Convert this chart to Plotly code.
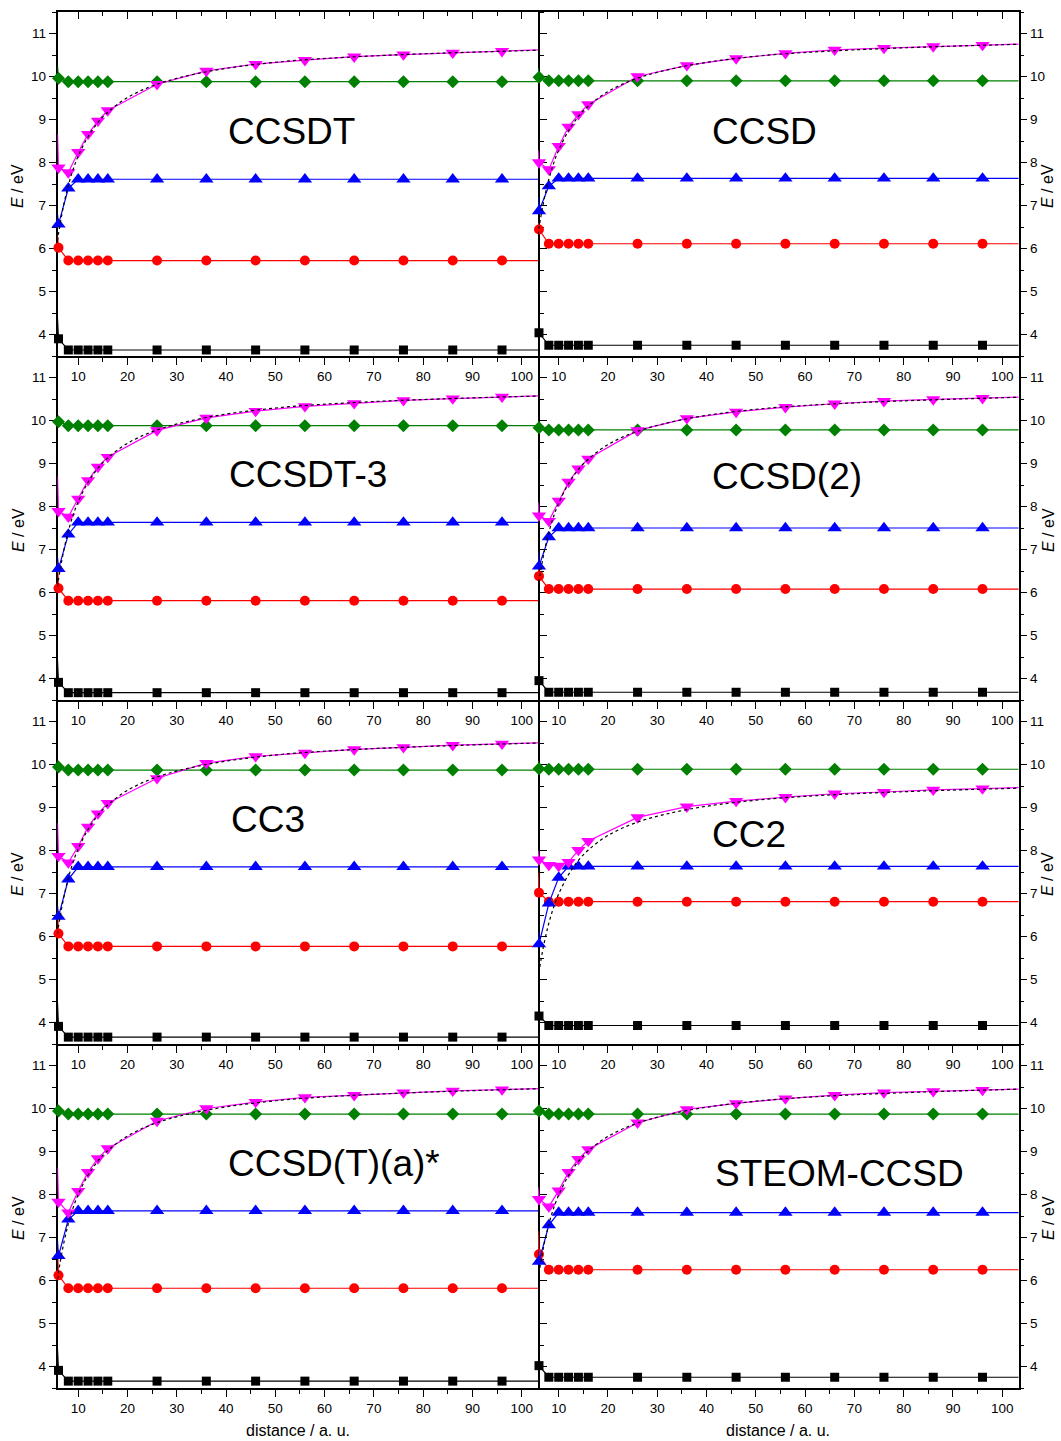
import plotly.graph_objects as go

W, H = 1061, 1441

# distances (a.u.): first = clipped point at left edge, last = clipped continuation beyond right edge
X_DIST = [5.8, 6, 8, 10, 12, 14, 16, 26, 36, 46, 56, 66, 76, 86, 96, 106]
# abscissae of the dotted asymptotic (-1/R) curves
X_FIT = [5.8, 6, 7, 8, 9, 10, 12, 14, 16, 20, 26, 36, 50, 70, 103.3]

METHODS = ["CCSDT", "CCSD", "CCSDT-3", "CCSD(2)", "CC3", "CC2", "CCSD(T)(a)*", "STEOM-CCSD"]

# ---- CCSDT
CCSDT_BLACK = [4.37, 3.90, 3.64, 3.64, 3.64, 3.64, 3.64, 3.64, 3.64, 3.64, 3.64, 3.64, 3.64, 3.64, 3.64, 3.64]
CCSDT_RED = [6.30, 6.02, 5.72, 5.72, 5.72, 5.72, 5.72, 5.72, 5.72, 5.72, 5.72, 5.72, 5.72, 5.72, 5.72, 5.72]
CCSDT_BLUE = [6.80, 6.56, 7.40, 7.61, 7.61, 7.61, 7.61, 7.61, 7.61, 7.61, 7.61, 7.61, 7.61, 7.61, 7.61, 7.61]
CCSDT_MAGENTA = [8.66, 7.88, 7.77, 8.24, 8.66, 8.97, 9.21, 9.82, 10.13, 10.29, 10.38, 10.46, 10.51, 10.55, 10.59, 10.63]
CCSDT_GREEN = [10.25, 9.96, 9.88, 9.88, 9.88, 9.88, 9.88, 9.88, 9.88, 9.88, 9.88, 9.88, 9.88, 9.88, 9.88, 9.88]
CCSDT_FIT = [6.18, 6.34, 6.98, 7.47, 7.85, 8.15, 8.60, 8.93, 9.17, 9.51, 9.82, 10.11, 10.33, 10.48, 10.61]

# ---- CCSD
CCSD_BLACK = [4.15, 4.04, 3.75, 3.75, 3.75, 3.75, 3.75, 3.75, 3.75, 3.75, 3.75, 3.75, 3.75, 3.75, 3.75, 3.75]
CCSD_RED = [6.60, 6.44, 6.11, 6.11, 6.11, 6.11, 6.11, 6.11, 6.11, 6.11, 6.11, 6.11, 6.11, 6.11, 6.11, 6.11]
CCSD_BLUE = [7.19, 6.87, 7.45, 7.63, 7.63, 7.63, 7.63, 7.63, 7.63, 7.63, 7.63, 7.63, 7.63, 7.63, 7.63, 7.63]
CCSD_MAGENTA = [8.29, 8.00, 7.84, 8.38, 8.83, 9.12, 9.35, 10.00, 10.26, 10.42, 10.54, 10.62, 10.66, 10.70, 10.73, 10.76]
CCSD_GREEN = [10.20, 9.98, 9.90, 9.90, 9.90, 9.90, 9.90, 9.90, 9.90, 9.90, 9.90, 9.90, 9.90, 9.90, 9.90, 9.90]
CCSD_FIT = [6.32, 6.48, 7.12, 7.61, 7.99, 8.29, 8.74, 9.07, 9.31, 9.65, 9.96, 10.25, 10.47, 10.62, 10.75]

# ---- CCSDT-3
CCSDT3_BLACK = [4.42, 3.91, 3.67, 3.67, 3.67, 3.67, 3.67, 3.67, 3.67, 3.67, 3.67, 3.67, 3.67, 3.67, 3.67, 3.67]
CCSDT3_RED = [6.71, 6.10, 5.81, 5.81, 5.81, 5.81, 5.81, 5.81, 5.81, 5.81, 5.81, 5.81, 5.81, 5.81, 5.81, 5.81]
CCSDT3_BLUE = [6.82, 6.55, 7.35, 7.63, 7.63, 7.63, 7.63, 7.63, 7.63, 7.63, 7.63, 7.63, 7.63, 7.63, 7.63, 7.63]
CCSDT3_MAGENTA = [8.69, 7.89, 7.76, 8.18, 8.61, 8.92, 9.15, 9.77, 10.06, 10.22, 10.33, 10.40, 10.47, 10.51, 10.55, 10.58]
CCSDT3_GREEN = [10.10, 9.97, 9.88, 9.88, 9.88, 9.88, 9.88, 9.88, 9.88, 9.88, 9.88, 9.88, 9.88, 9.88, 9.88, 9.88]
CCSDT3_FIT = [6.14, 6.30, 6.94, 7.43, 7.81, 8.11, 8.56, 8.89, 9.13, 9.47, 9.78, 10.07, 10.29, 10.44, 10.57]

# ---- CCSD(2)
CCSD2_BLACK = [4.10, 3.95, 3.68, 3.68, 3.68, 3.68, 3.68, 3.68, 3.68, 3.68, 3.68, 3.68, 3.68, 3.68, 3.68, 3.68]
CCSD2_RED = [6.60, 6.38, 6.08, 6.08, 6.08, 6.08, 6.08, 6.08, 6.08, 6.08, 6.08, 6.08, 6.08, 6.08, 6.08, 6.08]
CCSD2_BLUE = [6.94, 6.61, 7.29, 7.50, 7.50, 7.50, 7.50, 7.50, 7.50, 7.50, 7.50, 7.50, 7.50, 7.50, 7.50, 7.50]
CCSD2_MAGENTA = [8.10, 7.79, 7.66, 8.13, 8.57, 8.88, 9.11, 9.77, 10.05, 10.20, 10.31, 10.39, 10.45, 10.49, 10.52, 10.55]
CCSD2_GREEN = [10.00, 9.83, 9.78, 9.78, 9.78, 9.78, 9.78, 9.78, 9.78, 9.78, 9.78, 9.78, 9.78, 9.78, 9.78, 9.78]
CCSD2_FIT = [6.11, 6.27, 6.91, 7.40, 7.78, 8.08, 8.53, 8.86, 9.10, 9.44, 9.75, 10.04, 10.26, 10.41, 10.54]

# ---- CC3
CC3_BLACK = [4.46, 3.91, 3.66, 3.66, 3.66, 3.66, 3.66, 3.66, 3.66, 3.66, 3.66, 3.66, 3.66, 3.66, 3.66, 3.66]
CC3_RED = [6.63, 6.07, 5.77, 5.77, 5.77, 5.77, 5.77, 5.77, 5.77, 5.77, 5.77, 5.77, 5.77, 5.77, 5.77, 5.77]
CC3_BLUE = [6.71, 6.46, 7.33, 7.62, 7.62, 7.62, 7.62, 7.62, 7.62, 7.62, 7.62, 7.62, 7.62, 7.62, 7.62, 7.62]
CC3_MAGENTA = [8.64, 7.87, 7.72, 8.10, 8.55, 8.86, 9.10, 9.68, 10.03, 10.19, 10.27, 10.35, 10.40, 10.45, 10.48, 10.51]
CC3_GREEN = [10.10, 9.94, 9.87, 9.87, 9.87, 9.87, 9.87, 9.87, 9.87, 9.87, 9.87, 9.87, 9.87, 9.87, 9.87, 9.87]
CC3_FIT = [6.07, 6.23, 6.87, 7.36, 7.74, 8.04, 8.49, 8.82, 9.06, 9.40, 9.71, 10.00, 10.22, 10.37, 10.50]

# ---- CC2
CC2_BLACK = [4.30, 4.15, 3.93, 3.93, 3.93, 3.93, 3.93, 3.93, 3.93, 3.93, 3.93, 3.93, 3.93, 3.93, 3.93, 3.93]
CC2_RED = [7.49, 7.02, 6.81, 6.81, 6.81, 6.81, 6.81, 6.81, 6.81, 6.81, 6.81, 6.81, 6.81, 6.81, 6.81, 6.81]
CC2_BLUE = [6.10, 5.82, 6.77, 7.37, 7.63, 7.63, 7.63, 7.63, 7.63, 7.63, 7.63, 7.63, 7.63, 7.63, 7.63, 7.63]
CC2_MAGENTA = [8.00, 7.79, 7.66, 7.64, 7.73, 8.01, 8.22, 8.77, 9.02, 9.15, 9.24, 9.32, 9.36, 9.41, 9.44, 9.47]
CC2_GREEN = [10.08, 9.90, 9.89, 9.89, 9.89, 9.89, 9.89, 9.89, 9.89, 9.89, 9.89, 9.89, 9.89, 9.89, 9.89, 9.89]
CC2_FIT = [5.02, 5.18, 5.82, 6.31, 6.69, 6.99, 7.44, 7.77, 8.01, 8.35, 8.66, 8.95, 9.17, 9.32, 9.45]

# ---- CCSD(T)(a)*
CCSDTA_BLACK = [4.40, 3.91, 3.66, 3.66, 3.66, 3.66, 3.66, 3.66, 3.66, 3.66, 3.66, 3.66, 3.66, 3.66, 3.66, 3.66]
CCSDTA_RED = [6.72, 6.12, 5.82, 5.82, 5.82, 5.82, 5.82, 5.82, 5.82, 5.82, 5.82, 5.82, 5.82, 5.82, 5.82, 5.82]
CCSDTA_BLUE = [6.92, 6.57, 7.42, 7.62, 7.62, 7.62, 7.62, 7.62, 7.62, 7.62, 7.62, 7.62, 7.62, 7.62, 7.62, 7.62]
CCSDTA_MAGENTA = [8.63, 7.83, 7.58, 8.08, 8.52, 8.84, 9.07, 9.71, 10.00, 10.15, 10.26, 10.31, 10.37, 10.41, 10.44, 10.47]
CCSDTA_GREEN = [10.10, 9.94, 9.87, 9.87, 9.87, 9.87, 9.87, 9.87, 9.87, 9.87, 9.87, 9.87, 9.87, 9.87, 9.87, 9.87]
CCSDTA_FIT = [6.03, 6.19, 6.83, 7.32, 7.70, 8.00, 8.45, 8.78, 9.02, 9.36, 9.67, 9.96, 10.18, 10.33, 10.46]

# ---- STEOM-CCSD
STEOM_BLACK = [4.20, 4.02, 3.75, 3.75, 3.75, 3.75, 3.75, 3.75, 3.75, 3.75, 3.75, 3.75, 3.75, 3.75, 3.75, 3.75]
STEOM_RED = [7.14, 6.61, 6.25, 6.25, 6.25, 6.25, 6.25, 6.25, 6.25, 6.25, 6.25, 6.25, 6.25, 6.25, 6.25, 6.25]
STEOM_BLUE = [6.71, 6.44, 7.29, 7.58, 7.58, 7.58, 7.58, 7.58, 7.58, 7.58, 7.58, 7.58, 7.58, 7.58, 7.58, 7.58]
STEOM_MAGENTA = [8.17, 7.89, 7.72, 8.09, 8.52, 8.82, 9.05, 9.67, 9.98, 10.12, 10.23, 10.31, 10.37, 10.40, 10.43, 10.46]
STEOM_GREEN = [10.08, 9.94, 9.87, 9.87, 9.87, 9.87, 9.87, 9.87, 9.87, 9.87, 9.87, 9.87, 9.87, 9.87, 9.87, 9.87]
STEOM_FIT = [6.02, 6.18, 6.82, 7.31, 7.69, 7.99, 8.44, 8.77, 9.01, 9.35, 9.66, 9.95, 10.17, 10.32, 10.45]

PANELS = [
    (CCSDT_BLACK, CCSDT_RED, CCSDT_BLUE, CCSDT_GREEN, CCSDT_MAGENTA, CCSDT_FIT),
    (CCSD_BLACK, CCSD_RED, CCSD_BLUE, CCSD_GREEN, CCSD_MAGENTA, CCSD_FIT),
    (CCSDT3_BLACK, CCSDT3_RED, CCSDT3_BLUE, CCSDT3_GREEN, CCSDT3_MAGENTA, CCSDT3_FIT),
    (CCSD2_BLACK, CCSD2_RED, CCSD2_BLUE, CCSD2_GREEN, CCSD2_MAGENTA, CCSD2_FIT),
    (CC3_BLACK, CC3_RED, CC3_BLUE, CC3_GREEN, CC3_MAGENTA, CC3_FIT),
    (CC2_BLACK, CC2_RED, CC2_BLUE, CC2_GREEN, CC2_MAGENTA, CC2_FIT),
    (CCSDTA_BLACK, CCSDTA_RED, CCSDTA_BLUE, CCSDTA_GREEN, CCSDTA_MAGENTA, CCSDTA_FIT),
    (STEOM_BLACK, STEOM_RED, STEOM_BLUE, STEOM_GREEN, STEOM_MAGENTA, STEOM_FIT),
]

# label anchor positions (data coordinates of each panel)
LABEL_X = [53.3, 51.7, 56.6, 56.4, 48.5, 48.7, 62.0, 66.9]
LABEL_Y = [8.72, 8.72, 8.75, 8.70, 8.72, 8.37, 8.72, 8.49]

STYLES = [
    dict(color="#000000", symbol="square", size=9),
    dict(color="#ff0000", symbol="circle", size=10),
    dict(color="#0000ff", symbol="triangle-up", size=12.5),
    dict(color="#008000", symbol="diamond", size=10),
    dict(color="#ff00ff", symbol="triangle-down", size=12.5),
]

FONT = "Liberation Sans, Arial, sans-serif"
XR = [5.8, 103.3]
YR = [3.5, 11.5]

col_px = [(57.5, 538.0), (538.0, 1018.5)]
row_px = [(12, 356), (356, 700), (700, 1044), (1044, 1388)]

fig = go.Figure()
layout = dict(width=W, height=H, margin=dict(l=0, r=0, t=0, b=0),
              paper_bgcolor="white", plot_bgcolor="rgba(0,0,0,0)", showlegend=False,
              font=dict(family=FONT, color="black"))
annotations = []

for i, series in enumerate(PANELS):
    r, c = divmod(i, 2)
    n = i + 1
    xs = "x" if n == 1 else f"x{n}"
    ys = "y" if n == 1 else f"y{n}"
    xd = [col_px[c][0] / W, col_px[c][1] / W]
    yd = [1 - row_px[r][1] / H, 1 - row_px[r][0] / H]

    for vals, st in zip(series[:5], STYLES):
        sizes = [0] + [st["size"]] * (len(X_DIST) - 2) + [0]
        fig.add_trace(go.Scatter(
            x=X_DIST, y=vals, xaxis=xs, yaxis=ys, mode="lines+markers",
            line=dict(color=st["color"], width=1.2),
            marker=dict(color=st["color"], symbol=st["symbol"], size=sizes, opacity=1,
                        line=dict(width=0)),
            cliponaxis=False, hoverinfo="skip"))
    fig.add_trace(go.Scatter(
        x=X_FIT, y=series[5], xaxis=xs, yaxis=ys, mode="lines",
        line=dict(color="black", width=1.2, dash="dot", shape="spline"), hoverinfo="skip"))

    tick_common = dict(ticks="outside", ticklen=7, tickwidth=1.2, tickcolor="black",
                       showgrid=False, zeroline=False, showline=True, linecolor="black",
                       linewidth=1.5, layer="below traces",
                       tickfont=dict(family=FONT, size=13.5, color="black"))
    layout["xaxis" if n == 1 else f"xaxis{n}"] = dict(
        domain=xd, anchor=ys, range=XR, tick0=0, dtick=10, mirror=(r == 0),
        minor=dict(tick0=0, dtick=5, ticks="outside", ticklen=4, tickwidth=1.2, tickcolor="black"),
        **tick_common)
    layout["yaxis" if n == 1 else f"yaxis{n}"] = dict(
        domain=yd, anchor=xs, range=YR, tick0=0, dtick=1,
        side="left" if c == 0 else "right", mirror="ticks" if c == 0 else False,
        minor=dict(tick0=0, dtick=0.5, ticks="outside", ticklen=4, tickwidth=1.2, tickcolor="black"),
        **tick_common)

    annotations.append(dict(text=METHODS[i], x=LABEL_X[i], y=LABEL_Y[i], xref=xs, yref=ys,
                            showarrow=False, xanchor="center", yanchor="middle",
                            font=dict(family=FONT, size=37, color="black")))
    # y-axis titles
    yc = 1 - ((row_px[r][0] + row_px[r][1]) / 2 + 2) / H
    annotations.append(dict(text="<i>E</i> / eV", x=(18 if c == 0 else 1048) / W, y=yc,
                            xref="paper", yref="paper", showarrow=False, textangle=-90,
                            xanchor="center", yanchor="middle",
                            font=dict(family=FONT, size=16, color="black")))

# inward ticks along the top frame of the first row
for k, (base_x, base_y) in enumerate([("x", "y"), ("x2", "y2")]):
    n = 9 + k
    fig.add_trace(go.Scatter(x=[None], y=[None], xaxis=f"x{n}", yaxis=base_y, mode="lines",
                             hoverinfo="skip"))
    layout[f"xaxis{n}"] = dict(overlaying=base_x, anchor=base_y, side="top", range=XR,
                               tick0=0, dtick=10, ticks="inside", ticklen=7, tickwidth=1.2,
                               tickcolor="black", showticklabels=False, showgrid=False,
                               zeroline=False, showline=False,
                               minor=dict(tick0=0, dtick=5, ticks="inside", ticklen=4,
                                          tickwidth=1.2, tickcolor="black"))

for c in range(2):
    xc = (col_px[c][0] + col_px[c][1]) / 2
    annotations.append(dict(text="distance / a. u.", x=xc / W, y=1 - 1430 / H,
                            xref="paper", yref="paper", showarrow=False,
                            xanchor="center", yanchor="middle",
                            font=dict(family=FONT, size=16, color="black")))

layout["annotations"] = annotations
fig.update_layout(**layout)
fig.write_html("out.html")
